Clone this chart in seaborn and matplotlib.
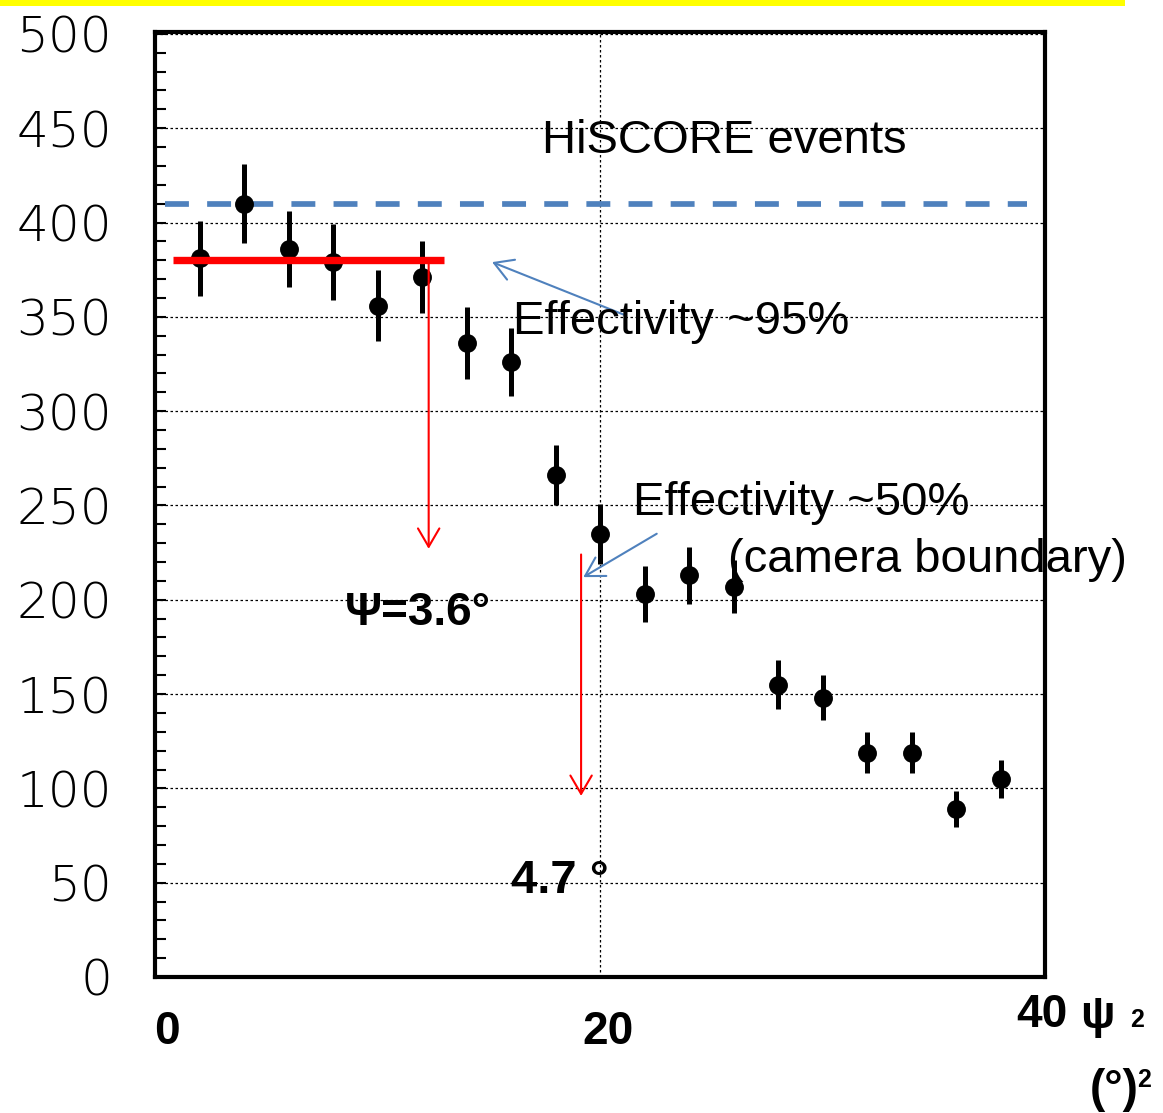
import matplotlib
matplotlib.use("Agg")
import matplotlib.pyplot as plt
import matplotlib.transforms as mtransforms
from matplotlib.patches import Rectangle
from matplotlib.ticker import MultipleLocator
import seaborn as sns
import pandas as pd

# ---------------- data ----------------
psi2 = [2, 4, 6, 8, 10, 12, 14, 16, 18, 20, 22, 24, 26, 28, 30, 32, 34, 36, 38]
counts = [381, 410, 386, 379, 356, 371, 336, 326, 266, 235, 203, 213, 207, 155, 148, 119, 119, 89, 105]
errors = [20, 21, 20, 20, 19, 19, 19, 18, 16, 16, 15, 15, 14, 13, 12, 11, 11, 9.5, 10]

full_level = 410          # blue dashed reference
plateau_level = 380       # red plateau
plateau_range = [0.8, 13.0]
full_range = [0.45, 39.2]

arrow1_x, arrow1_from, arrow1_to = 12.3, 380, 227     # psi = 3.6 deg
arrow2_x, arrow2_from, arrow2_to = 19.15, 224, 96     # 4.7 deg

y_ticks = list(range(0, 501, 50))
x_ticks = [0, 20, 40]
x_ticklabels = ["0", "20", "40"]

df = pd.DataFrame({"psi2": psi2, "counts": counts, "err": errors})

# ---------------- figure ----------------
sns.set_style("white")
plt.rcParams["font.family"] = ["Liberation Sans", "DejaVu Sans"]
plt.rcParams["text.color"] = "black"
plt.rcParams["axes.labelcolor"] = "black"
plt.rcParams["xtick.color"] = "black"
plt.rcParams["ytick.color"] = "black"

W, H = 1163, 1113
fig = plt.figure(figsize=(W / 100, H / 100), dpi=100)
ax = fig.add_axes([155 / W, (H - 977) / H, 890 / W, 945 / H])

def fpx(x, y):
    return x / W, 1 - y / H

# yellow band at top
fig.patches.append(Rectangle((0, 1 - 6 / H), 1125 / W, 6 / H, transform=fig.transFigure,
                             facecolor="#FFFF00", edgecolor="none"))

ax.set_xlim(0, 40)
ax.set_ylim(0, 501)

# grid
ax.set_yticks(y_ticks)
ax.set_xticks(x_ticks)
ax.grid(True, which="major", color="black", lw=0.9, ls=(0, (2, 2)), zorder=1)

# reference lines
ax.hlines(full_level, full_range[0], full_range[1], color="#4F81BD", lw=4.1,
          linestyles=[(0, (4.2, 3.2))], zorder=2)

# data
ax.errorbar(df["psi2"], df["counts"], yerr=df["err"], fmt="none", ecolor="black",
            elinewidth=3.6, capsize=0, zorder=4)
sns.scatterplot(data=df, x="psi2", y="counts", s=185, color="black", edgecolor="black",
                linewidth=0, zorder=5, ax=ax, legend=False)
ax.set_xlabel("")
ax.set_ylabel("")

ax.hlines(plateau_level, plateau_range[0], plateau_range[1], color="#FF0000", lw=5.3, zorder=6)

# red arrows
red_ap = dict(arrowstyle="->,head_length=0.6,head_width=0.35", color="#FF0000", lw=1.5,
              mutation_scale=22, shrinkA=0, shrinkB=0)
ax.annotate("", xy=(arrow1_x, arrow1_to), xytext=(arrow1_x, arrow1_from), arrowprops=red_ap, zorder=6)
ax.annotate("", xy=(arrow2_x, arrow2_to), xytext=(arrow2_x, arrow2_from), arrowprops=red_ap, zorder=6)

# blue arrows
blue_ap = dict(arrowstyle="->,head_length=0.6,head_width=0.35", color="#4F81BD", lw=1.5,
               mutation_scale=22, shrinkA=0, shrinkB=0)
ax.annotate("", xy=(15.15, 379), xytext=(21.1, 351), arrowprops=blue_ap, zorder=7)
ax.annotate("", xy=(19.25, 212), xytext=(22.55, 235), arrowprops=blue_ap, zorder=7)

# texts
ax.text(17.4, 437, "HiSCORE events", fontsize=34, color="black", ha="left", va="baseline", zorder=8)
ax.text(16.1, 341, "Effectivity ~95%", fontsize=34, color="black", ha="left", va="baseline", zorder=8)
ax.text(21.5, 245, "Effectivity ~50%", fontsize=34, color="black", ha="left", va="baseline", zorder=8)
ax.text(25.75, 214.5, "(camera boundary)", fontsize=34, color="black", ha="left", va="baseline", zorder=8)
ax.text(8.55, 186.5, "Ψ=3.6°", fontsize=33, fontweight="bold", color="black", ha="left", va="baseline", zorder=8)
ax.text(16.0, 44.5, "4.7 °", fontsize=34, fontweight="bold", color="black", ha="left", va="baseline", zorder=8)

# ticks
ax.yaxis.set_minor_locator(MultipleLocator(10))
ax.tick_params(axis="y", which="both", direction="in", length=8, width=1.5,
               left=True, right=False, pad=31, labelsize=36, colors="black")
for lbl in ax.get_yticklabels():
    lbl.set_family("DejaVu Sans")
    lbl.set_fontweight("light")
ax.tick_params(axis="x", which="both", length=0, pad=24, labelsize=33, colors="black")
ax.set_xticklabels(x_ticklabels, fontweight="bold")
offsets = [(12, 0), (8, 0), (-3, 17)]
for lbl, (dx, dy) in zip(ax.get_xticklabels(), offsets):
    lbl.set_transform(lbl.get_transform() +
                      mtransforms.ScaledTranslation(dx / 100, dy / 100, fig.dpi_scale_trans))

for sp in ax.spines.values():
    sp.set_visible(True)
    sp.set_color("black")
    sp.set_linewidth(3)

# axis title pieces
fig.text(*fpx(1080, 1028), "ψ", fontsize=33, fontweight="bold", color="black", ha="left", va="baseline")
fig.text(*fpx(1130, 1027), "2", fontsize=18, fontweight="bold", color="black", ha="left", va="baseline")
fig.text(*fpx(1090, 1102), "(°)", fontsize=33, fontweight="bold", color="black", ha="left", va="baseline")
fig.text(*fpx(1137, 1087), "2", fontsize=18, fontweight="bold", color="black", ha="left", va="baseline")

fig.savefig("out.png", dpi=100, facecolor="white")
